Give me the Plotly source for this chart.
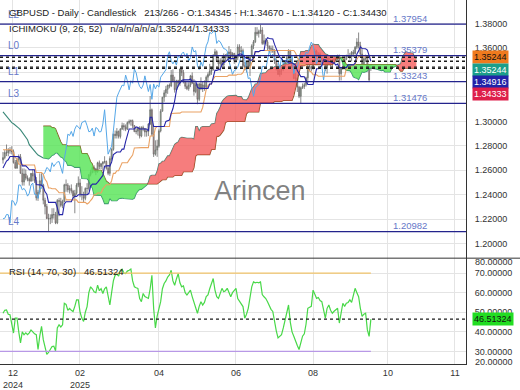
import plotly.graph_objects as go

# ---------------- data ----------------
opens = [1.2685, 1.2704, 1.2745, 1.2742, 1.2767, 1.2760, 1.2753, 1.2663, 1.2618, 1.2684,
         1.2711, 1.2575, 1.2505, 1.2570, 1.2537, 1.2530, 1.2513, 1.2575, 1.2553, 1.2516,
         1.2375, 1.2422, 1.2515, 1.2481, 1.2355, 1.2304, 1.2205, 1.2204, 1.2208, 1.2239,
         1.2237, 1.2170, 1.2353, 1.2347, 1.2313, 1.2343, 1.2481, 1.2479, 1.2440, 1.2452,
         1.2430, 1.2389, 1.2412, 1.2479, 1.2496, 1.2404, 1.2402, 1.2371, 1.2452, 1.2452,
         1.2564, 1.2584, 1.2623, 1.2612, 1.2587, 1.2662, 1.2631, 1.2653, 1.2667, 1.2672,
         1.2617, 1.2575, 1.2696, 1.2771, 1.2895, 1.2885, 1.2918, 1.2877, 1.2937, 1.2966,
         1.2955, 1.2936, 1.2990, 1.3000, 1.3005, 1.2965, 1.2915, 1.2920, 1.2945, 1.2880,
         1.2950, 1.2941, 1.2913, 1.2917, 1.2978, 1.3095, 1.2895, 1.2732, 1.2766, 1.2798,
         1.2922, 1.3083, 1.3197, 1.3233, 1.3262, 1.3296, 1.3290, 1.3378, 1.3331, 1.3258,
         1.3332, 1.3312, 1.3427, 1.3398, 1.3327, 1.3286, 1.3267, 1.3297, 1.3372, 1.3312,
         1.3244, 1.3301, 1.3180, 1.3306, 1.3265, 1.3298, 1.3280, 1.3361, 1.3383, 1.3410,
         1.3422, 1.3537, 1.3569, 1.3497, 1.3470, 1.3497, 1.3460, 1.3535, 1.3522, 1.3552,
         1.3567, 1.3529, 1.3555, 1.3495, 1.3520, 1.3608, 1.3568, 1.3578, 1.3455, 1.3424,
         1.3485, 1.3450, 1.3529, 1.3617, 1.3650, 1.3728, 1.3717, 1.3734, 1.3746, 1.3637,
         1.3660, 1.3650, 1.3615, 1.3594, 1.3591, 1.3574, 1.3494, 1.3427, 1.3383, 1.3415,
         1.3423, 1.3443, 1.3487, 1.3526, 1.3573, 1.3505, 1.3438, 1.3350, 1.3356, 1.3280,
         1.3205, 1.3275, 1.3285, 1.3300, 1.3356, 1.3450, 1.3448, 1.3430, 1.3500, 1.3574,
         1.3531, 1.3550, 1.3520, 1.3497, 1.3493, 1.3434, 1.3520, 1.3470, 1.3495, 1.3504,
         1.3503, 1.3510, 1.3539, 1.3389, 1.3440, 1.3441, 1.3508, 1.3535, 1.3532, 1.3530,
         1.3565, 1.3555, 1.3606, 1.3648, 1.3621, 1.3550, 1.3471, 1.3511, 1.3526, 1.3450,
         1.34345]

highs = [1.2750, 1.2765, 1.2811, 1.2781, 1.2790, 1.2797, 1.2770, 1.2685, 1.2700, 1.2730,
         1.2733, 1.2615, 1.2615, 1.2607, 1.2558, 1.2543, 1.2578, 1.2607, 1.2575, 1.2545,
         1.2440, 1.2575, 1.2576, 1.2490, 1.2376, 1.2325, 1.2245, 1.2240, 1.2290, 1.2290,
         1.2260, 1.2365, 1.2375, 1.2375, 1.2360, 1.2490, 1.2525, 1.2495, 1.2476, 1.2485,
         1.2440, 1.2440, 1.2495, 1.2550, 1.2530, 1.2470, 1.2425, 1.2460, 1.2495, 1.2570,
         1.2605, 1.2640, 1.2640, 1.2620, 1.2670, 1.2680, 1.2660, 1.2675, 1.2715, 1.2680,
         1.2630, 1.2715, 1.2780, 1.2900, 1.2925, 1.2945, 1.2925, 1.2945, 1.2990, 1.2985,
         1.2975, 1.3000, 1.3015, 1.3015, 1.3015, 1.2970, 1.2945, 1.2955, 1.2960, 1.2960,
         1.2965, 1.2945, 1.2935, 1.2985, 1.3207, 1.3105, 1.2965, 1.2845, 1.2850, 1.2935,
         1.3100, 1.3200, 1.3255, 1.3290, 1.3300, 1.3310, 1.3420, 1.3425, 1.3365, 1.3340,
         1.3340, 1.3430, 1.3443, 1.3420, 1.3330, 1.3320, 1.3320, 1.3380, 1.3400, 1.3345,
         1.3315, 1.3310, 1.3315, 1.3360, 1.3325, 1.3335, 1.3375, 1.3400, 1.3470, 1.3445,
         1.3550, 1.3593, 1.3580, 1.3525, 1.3515, 1.3530, 1.3555, 1.3550, 1.3560, 1.3615,
         1.3590, 1.3565, 1.3560, 1.3545, 1.3630, 1.3630, 1.3615, 1.3595, 1.3485, 1.3485,
         1.3515, 1.3530, 1.3630, 1.3665, 1.3770, 1.3770, 1.3750, 1.3788, 1.3770, 1.3710,
         1.3680, 1.3665, 1.3620, 1.3620, 1.3620, 1.3590, 1.3515, 1.3475, 1.3440, 1.3445,
         1.3480, 1.3495, 1.3535, 1.3590, 1.3585, 1.3525, 1.3455, 1.3395, 1.3385, 1.3290,
         1.3285, 1.3310, 1.3315, 1.3365, 1.3460, 1.3460, 1.3455, 1.3510, 1.3595, 1.3585,
         1.3565, 1.3565, 1.3530, 1.3520, 1.3505, 1.3530, 1.3525, 1.3510, 1.3505, 1.3530,
         1.3530, 1.3545, 1.3545, 1.3445, 1.3470, 1.3530, 1.3545, 1.3590, 1.3560, 1.3575,
         1.3585, 1.3615, 1.3680, 1.3726, 1.3650, 1.3590, 1.3525, 1.3545, 1.3530, 1.3460,
         1.3467]

lows = [1.2655, 1.2690, 1.2716, 1.2715, 1.2735, 1.2730, 1.2655, 1.2612, 1.2612, 1.2665,
        1.2574, 1.2475, 1.2475, 1.2518, 1.2510, 1.2475, 1.2505, 1.2510, 1.2497, 1.2353,
        1.2350, 1.2405, 1.2475, 1.2322, 1.2240, 1.2203, 1.2100, 1.2160, 1.2170, 1.2205,
        1.2160, 1.2160, 1.2225, 1.2298, 1.2290, 1.2340, 1.2425, 1.2420, 1.2410, 1.2410,
        1.2368, 1.2249, 1.2400, 1.2462, 1.2380, 1.2355, 1.2333, 1.2355, 1.2400, 1.2435,
        1.2550, 1.2575, 1.2580, 1.2560, 1.2580, 1.2610, 1.2610, 1.2595, 1.2655, 1.2605,
        1.2560, 1.2555, 1.2680, 1.2760, 1.2860, 1.2860, 1.2860, 1.2860, 1.2930, 1.2925,
        1.2920, 1.2930, 1.2975, 1.2965, 1.2945, 1.2915, 1.2895, 1.2885, 1.2860, 1.2870,
        1.2920, 1.2875, 1.2875, 1.2880, 1.2970, 1.2880, 1.2709, 1.2720, 1.2710, 1.2785,
        1.2910, 1.3080, 1.3160, 1.3200, 1.3225, 1.3270, 1.3280, 1.3320, 1.3235, 1.3255,
        1.3280, 1.3290, 1.3370, 1.3310, 1.3265, 1.3255, 1.3250, 1.3280, 1.3305, 1.3210,
        1.3230, 1.3140, 1.3165, 1.3255, 1.3240, 1.3250, 1.3260, 1.3330, 1.3370, 1.3380,
        1.3415, 1.3530, 1.3495, 1.3450, 1.3410, 1.3450, 1.3455, 1.3490, 1.3500, 1.3540,
        1.3500, 1.3515, 1.3470, 1.3480, 1.3500, 1.3530, 1.3540, 1.3445, 1.3415, 1.3400,
        1.3440, 1.3370, 1.3525, 1.3590, 1.3640, 1.3700, 1.3685, 1.3715, 1.3625, 1.3625,
        1.3630, 1.3580, 1.3565, 1.3560, 1.3560, 1.3470, 1.3415, 1.3380, 1.3365, 1.3380,
        1.3410, 1.3440, 1.3465, 1.3510, 1.3495, 1.3425, 1.3345, 1.3330, 1.3240, 1.3190,
        1.3142, 1.3265, 1.3265, 1.3285, 1.3315, 1.3410, 1.3410, 1.3425, 1.3490, 1.3515,
        1.3510, 1.3500, 1.3475, 1.3465, 1.3410, 1.3390, 1.3460, 1.3450, 1.3440, 1.3475,
        1.3480, 1.3500, 1.3333, 1.3335, 1.3420, 1.3425, 1.3500, 1.3520, 1.3505, 1.3490,
        1.3525, 1.3545, 1.3590, 1.3595, 1.3530, 1.3465, 1.3460, 1.3485, 1.3440, 1.3324,
        1.3412]

closes = [1.2704, 1.2745, 1.2742, 1.2767, 1.2760, 1.2753, 1.2663, 1.2618, 1.2684, 1.2711,
          1.2575, 1.2505, 1.2570, 1.2537, 1.2530, 1.2513, 1.2575, 1.2553, 1.2516, 1.2375,
          1.2422, 1.2515, 1.2481, 1.2355, 1.2304, 1.2205, 1.2204, 1.2208, 1.2239, 1.2237,
          1.2170, 1.2353, 1.2347, 1.2313, 1.2343, 1.2481, 1.2479, 1.2440, 1.2452, 1.2430,
          1.2389, 1.2412, 1.2479, 1.2496, 1.2404, 1.2402, 1.2371, 1.2452, 1.2452, 1.2564,
          1.2584, 1.2623, 1.2612, 1.2587, 1.2662, 1.2631, 1.2653, 1.2667, 1.2672, 1.2617,
          1.2575, 1.2696, 1.2771, 1.2895, 1.2885, 1.2918, 1.2877, 1.2937, 1.2966, 1.2955,
          1.2936, 1.2990, 1.3000, 1.3005, 1.2965, 1.2915, 1.2920, 1.2945, 1.2880, 1.2950,
          1.2941, 1.2913, 1.2917, 1.2978, 1.3095, 1.2895, 1.2732, 1.2766, 1.2798, 1.2922,
          1.3083, 1.3197, 1.3233, 1.3262, 1.3296, 1.3290, 1.3378, 1.3331, 1.3258, 1.3332,
          1.3312, 1.3427, 1.3398, 1.3327, 1.3286, 1.3267, 1.3297, 1.3372, 1.3312, 1.3244,
          1.3301, 1.3180, 1.3306, 1.3265, 1.3298, 1.3280, 1.3361, 1.3383, 1.3410, 1.3422,
          1.3537, 1.3569, 1.3497, 1.3470, 1.3497, 1.3460, 1.3535, 1.3522, 1.3552, 1.3567,
          1.3529, 1.3555, 1.3495, 1.3520, 1.3608, 1.3568, 1.3578, 1.3455, 1.3424, 1.3485,
          1.3450, 1.3529, 1.3617, 1.3650, 1.3728, 1.3717, 1.3734, 1.3746, 1.3637, 1.3660,
          1.3650, 1.3615, 1.3594, 1.3591, 1.3574, 1.3494, 1.3427, 1.3383, 1.3415, 1.3423,
          1.3443, 1.3487, 1.3526, 1.3573, 1.3505, 1.3438, 1.3350, 1.3356, 1.3280, 1.3205,
          1.3275, 1.3285, 1.3300, 1.3356, 1.3450, 1.3448, 1.3430, 1.3500, 1.3574, 1.3531,
          1.3550, 1.3520, 1.3497, 1.3493, 1.3434, 1.3520, 1.3470, 1.3495, 1.3504, 1.3503,
          1.3510, 1.3539, 1.3389, 1.3440, 1.3441, 1.3508, 1.3535, 1.3532, 1.3530, 1.3565,
          1.3555, 1.3606, 1.3648, 1.3621, 1.3550, 1.3471, 1.3511, 1.3526, 1.3450, 1.3339,
          1.3443]

tenkan = [1.2619, 1.2643, 1.2676, 1.2686, 1.2713, 1.2713, 1.2713, 1.2712, 1.2712, 1.2712,
          1.2693, 1.2636, 1.2636, 1.2636, 1.2623, 1.2604, 1.2604, 1.2604, 1.2604, 1.2484,
          1.2483, 1.2479, 1.2479, 1.2465, 1.2424, 1.2405, 1.2338, 1.2338, 1.2338, 1.2338,
          1.2338, 1.2295, 1.2238, 1.2238, 1.2238, 1.2325, 1.2343, 1.2343, 1.2343, 1.2343,
          1.2375, 1.2387, 1.2387, 1.2400, 1.2400, 1.2400, 1.2400, 1.2400, 1.2400, 1.2410,
          1.2469, 1.2487, 1.2487, 1.2487, 1.2502, 1.2518, 1.2540, 1.2558, 1.2633, 1.2638,
          1.2638, 1.2635, 1.2668, 1.2728, 1.2740, 1.2750, 1.2750, 1.2750, 1.2773, 1.2773,
          1.2835, 1.2880, 1.2938, 1.2938, 1.2938, 1.2938, 1.2955, 1.2950, 1.2938, 1.2938,
          1.2938, 1.2938, 1.2938, 1.2923, 1.3034, 1.3034, 1.2958, 1.2958, 1.2958, 1.2958,
          1.2958, 1.2958, 1.2958, 1.3000, 1.3005, 1.3010, 1.3065, 1.3105, 1.3168, 1.3253,
          1.3293, 1.3315, 1.3334, 1.3339, 1.3339, 1.3339, 1.3339, 1.3347, 1.3327, 1.3327,
          1.3327, 1.3280, 1.3270, 1.3270, 1.3270, 1.3270, 1.3270, 1.3270, 1.3305, 1.3305,
          1.3358, 1.3417, 1.3417, 1.3422, 1.3427, 1.3462, 1.3482, 1.3487, 1.3502, 1.3513,
          1.3513, 1.3513, 1.3513, 1.3533, 1.3543, 1.3550, 1.3550, 1.3538, 1.3523, 1.3515,
          1.3515, 1.3500, 1.3500, 1.3518, 1.3570, 1.3570, 1.3570, 1.3579, 1.3579, 1.3579,
          1.3657, 1.3684, 1.3677, 1.3674, 1.3674, 1.3629, 1.3593, 1.3545, 1.3523, 1.3515,
          1.3493, 1.3493, 1.3493, 1.3478, 1.3478, 1.3478, 1.3468, 1.3460, 1.3415, 1.3390,
          1.3366, 1.3366, 1.3364, 1.3334, 1.3301, 1.3301, 1.3301, 1.3301, 1.3369, 1.3430,
          1.3430, 1.3440, 1.3455, 1.3503, 1.3503, 1.3493, 1.3493, 1.3488, 1.3478, 1.3478,
          1.3460, 1.3468, 1.3439, 1.3439, 1.3439, 1.3439, 1.3439, 1.3462, 1.3462, 1.3462,
          1.3462, 1.3475, 1.3550, 1.3576, 1.3608, 1.3596, 1.3593, 1.3593, 1.3583, 1.3525,
          1.34916]

kijun = [1.2768, 1.2768, 1.2768, 1.2768, 1.2768, 1.2768, 1.2741, 1.2704, 1.2694, 1.2649,
         1.2649, 1.2643, 1.2643, 1.2643, 1.2643, 1.2643, 1.2643, 1.2643, 1.2643, 1.2582,
         1.2582, 1.2582, 1.2582, 1.2567, 1.2526, 1.2507, 1.2456, 1.2456, 1.2449, 1.2449,
         1.2449, 1.2435, 1.2417, 1.2417, 1.2417, 1.2417, 1.2358, 1.2358, 1.2358, 1.2358,
         1.2358, 1.2358, 1.2358, 1.2338, 1.2338, 1.2338, 1.2338, 1.2338, 1.2325, 1.2335,
         1.2353, 1.2370, 1.2400, 1.2400, 1.2415, 1.2415, 1.2415, 1.2448, 1.2470, 1.2482,
         1.2482, 1.2482, 1.2515, 1.2575, 1.2575, 1.2597, 1.2597, 1.2639, 1.2662, 1.2662,
         1.2662, 1.2662, 1.2685, 1.2708, 1.2725, 1.2783, 1.2785, 1.2785, 1.2785, 1.2785,
         1.2785, 1.2785, 1.2785, 1.2785, 1.2881, 1.2881, 1.2881, 1.2944, 1.2958, 1.2958,
         1.2958, 1.2958, 1.2958, 1.2958, 1.2958, 1.2958, 1.3065, 1.3067, 1.3067, 1.3067,
         1.3067, 1.3067, 1.3076, 1.3076, 1.3076, 1.3076, 1.3076, 1.3076, 1.3076, 1.3076,
         1.3076, 1.3076, 1.3077, 1.3077, 1.3114, 1.3177, 1.3262, 1.3292, 1.3305, 1.3305,
         1.3345, 1.3367, 1.3367, 1.3367, 1.3367, 1.3367, 1.3367, 1.3367, 1.3367, 1.3378,
         1.3378, 1.3378, 1.3378, 1.3378, 1.3385, 1.3385, 1.3385, 1.3398, 1.3435, 1.3435,
         1.3435, 1.3435, 1.3480, 1.3500, 1.3570, 1.3570, 1.3570, 1.3579, 1.3579, 1.3579,
         1.3579, 1.3579, 1.3579, 1.3579, 1.3579, 1.3579, 1.3579, 1.3579, 1.3579, 1.3579,
         1.3579, 1.3579, 1.3579, 1.3579, 1.3579, 1.3579, 1.3579, 1.3559, 1.3514, 1.3489,
         1.3465, 1.3465, 1.3465, 1.3456, 1.3426, 1.3411, 1.3404, 1.3381, 1.3381, 1.3381,
         1.3369, 1.3369, 1.3369, 1.3369, 1.3369, 1.3369, 1.3369, 1.3369, 1.3369, 1.3369,
         1.3369, 1.3369, 1.3369, 1.3369, 1.3369, 1.3369, 1.3430, 1.3430, 1.3440, 1.3455,
         1.3464, 1.3464, 1.3507, 1.3530, 1.3530, 1.3530, 1.3530, 1.3530, 1.3530, 1.35244,
         1.35244]

# Senkou span A / B, plotted 26 bars ahead (bar index 0 .. 236)
senkou_a = [1.3078, 1.3060, 1.3040, 1.3022, 1.3005, 1.2990, 1.2980, 1.2970, 1.2955, 1.2945,
            1.2930, 1.2910, 1.2890, 1.2870, 1.2850, 1.2810, 1.2790, 1.2770, 1.2750, 1.2740,
            1.2725, 1.2715, 1.2708, 1.2700, 1.2698, 1.2696,
            1.2694, 1.2706, 1.2722, 1.2727, 1.2741, 1.2741, 1.2727, 1.2708, 1.2703, 1.2681,
            1.2671, 1.2640, 1.2640, 1.2640, 1.2633, 1.2624, 1.2624, 1.2624, 1.2624, 1.2533,
            1.2533, 1.2531, 1.2531, 1.2516, 1.2475, 1.2456, 1.2397, 1.2397, 1.2394, 1.2394,
            1.2394, 1.2365, 1.2328, 1.2328, 1.2328, 1.2371, 1.2351, 1.2351, 1.2351, 1.2351,
            1.2367, 1.2373, 1.2373, 1.2369, 1.2369, 1.2369, 1.2369, 1.2369, 1.2363, 1.2373,
            1.2411, 1.2429, 1.2444, 1.2444, 1.2459, 1.2467, 1.2478, 1.2503, 1.2552, 1.2560,
            1.2560, 1.2559, 1.2592, 1.2652, 1.2658, 1.2674, 1.2674, 1.2695, 1.2718, 1.2718,
            1.2749, 1.2771, 1.2812, 1.2823, 1.2832, 1.2861, 1.2870, 1.2868, 1.2862, 1.2862,
            1.2862, 1.2862, 1.2862, 1.2854, 1.2958, 1.2958, 1.2920, 1.2951, 1.2958, 1.2958,
            1.2958, 1.2958, 1.2958, 1.2979, 1.2982, 1.2984, 1.3065, 1.3086, 1.3118, 1.3160,
            1.3180, 1.3191, 1.3205, 1.3208, 1.3208, 1.3208, 1.3208, 1.3212, 1.3202, 1.3202,
            1.3202, 1.3178, 1.3174, 1.3174, 1.3192, 1.3224, 1.3266, 1.3281, 1.3305, 1.3305,
            1.3352, 1.3392, 1.3392, 1.3395, 1.3397, 1.3415, 1.3425, 1.3427, 1.3435, 1.3446,
            1.3446, 1.3446, 1.3446, 1.3456, 1.3464, 1.3468, 1.3468, 1.3468, 1.3479, 1.3475,
            1.3475, 1.3468, 1.3490, 1.3509, 1.3570, 1.3570, 1.3570, 1.3579, 1.3579, 1.3579,
            1.3618, 1.3632, 1.3628, 1.3627, 1.3627, 1.3604, 1.3586, 1.3562, 1.3551, 1.3547,
            1.3536, 1.3536, 1.3536, 1.3529, 1.3529, 1.3529, 1.3524, 1.3510, 1.3465, 1.3440,
            1.3416, 1.3416, 1.3415, 1.3395, 1.3364, 1.3356, 1.3353, 1.3341, 1.3375, 1.3406,
            1.3400, 1.3405, 1.3412, 1.3436, 1.3436, 1.3431, 1.3431, 1.3429, 1.3424, 1.3424,
            1.3415, 1.3419, 1.3404, 1.3404, 1.3404, 1.3404, 1.3435, 1.3446, 1.3451, 1.3459,
            1.3463, 1.3470, 1.3529, 1.3553, 1.3569, 1.3563, 1.3562, 1.3562, 1.3557, 1.3525,
            1.3508]

senkou_b = [None, None, None, None, None, None, None, None, None, None,
            None, None, None, None, None, None, None, None, None, None,
            None, None, None, 1.2961, 1.2961, 1.2961, 1.2961, 1.2961, 1.2949, 1.2949,
            1.2939, 1.2899, 1.2874, 1.2831, 1.2809, 1.2809, 1.2809, 1.2798, 1.2798, 1.2798,
            1.2798, 1.2798, 1.2798, 1.2798, 1.2798, 1.2737, 1.2737, 1.2737, 1.2737, 1.2710,
            1.2670, 1.2651, 1.2600, 1.2600, 1.2600, 1.2600, 1.2600, 1.2574, 1.2548, 1.2510,
            1.2500, 1.2488, 1.2488, 1.2488, 1.2488, 1.2488, 1.2488, 1.2488, 1.2488, 1.2488,
            1.2488, 1.2488, 1.2488, 1.2488, 1.2488, 1.2488, 1.2488, 1.2488, 1.2488, 1.2488,
            1.2488, 1.2488, 1.2488, 1.2488, 1.2488, 1.2488, 1.2488, 1.2488, 1.2488, 1.2500,
            1.2513, 1.2523, 1.2523, 1.2523, 1.2545, 1.2545, 1.2545, 1.2545, 1.2558, 1.2558,
            1.2558, 1.2558, 1.2558, 1.2588, 1.2588, 1.2588, 1.2588, 1.2588, 1.2588, 1.2620,
            1.2716, 1.2728, 1.2728, 1.2728, 1.2728, 1.2728, 1.2728, 1.2728, 1.2728, 1.2770,
            1.2770, 1.2770, 1.2877, 1.2877, 1.2888, 1.2910, 1.2928, 1.2990, 1.2999, 1.2999,
            1.2999, 1.2999, 1.2999, 1.2999, 1.2999, 1.2999, 1.2999, 1.2999, 1.2999, 1.3062,
            1.3076, 1.3076, 1.3076, 1.3076, 1.3076, 1.3076, 1.3076, 1.3151, 1.3151, 1.3151,
            1.3151, 1.3151, 1.3151, 1.3151, 1.3151, 1.3162, 1.3162, 1.3162, 1.3162, 1.3162,
            1.3170, 1.3170, 1.3170, 1.3170, 1.3170, 1.3170, 1.3208, 1.3270, 1.3355, 1.3403,
            1.3455, 1.3455, 1.3455, 1.3464, 1.3464, 1.3464, 1.3464, 1.3464, 1.3464, 1.3464,
            1.3464, 1.3464, 1.3464, 1.3464, 1.3464, 1.3464, 1.3464, 1.3464, 1.3464, 1.3477,
            1.3514, 1.3514, 1.3519, 1.3524, 1.3514, 1.3489, 1.3465, 1.3465, 1.3465, 1.3465,
            1.3465, 1.3465, 1.3465, 1.3465, 1.3465, 1.3465, 1.3465, 1.3465, 1.3465, 1.3465,
            1.3465, 1.3465, 1.3465, 1.3465, 1.3465, 1.3465, 1.3465, 1.3465, 1.3465, 1.3465,
            1.3465, 1.3465, 1.3465, 1.3465, 1.3465, 1.3456, 1.3426, 1.3411, 1.3411, 1.3434,
            1.3434, 1.3434, 1.3434, 1.3434, 1.3434, 1.3434, 1.3434]

rsi = [49.5, 51.0, 51.2, 49.0, 48.7, 42.8, 39.4, 47.0, 47.0, 40.0,
       34.4, 40.0, 38.5, 39.5, 38.6, 39.5, 41.0, 40.0, 39.0, 38.6,
       31.0, 38.0, 42.8, 36.0, 32.0, 28.5, 29.5, 31.0, 32.5, 32.7,
       30.2, 42.0, 43.6, 42.5, 43.6, 54.6, 54.0, 51.0, 52.0, 51.0,
       50.4, 53.0, 56.3, 56.3, 50.0, 47.0, 45.3, 50.0, 52.9, 60.0,
       63.0, 62.0, 60.5, 60.0, 63.8, 61.0, 62.0, 59.6, 62.0, 63.0,
       58.0, 53.7, 60.0, 66.0, 68.9, 69.5, 68.5, 71.4, 72.0, 70.0,
       69.7, 71.0, 71.4, 72.0, 66.0, 63.0, 62.5, 62.2, 57.0, 55.4,
       59.6, 58.0, 57.5, 57.1, 62.0, 68.9, 52.0, 42.0, 48.0, 52.0,
       55.4, 62.0, 64.7, 66.0, 68.0, 69.0, 71.4, 66.0, 63.8, 67.0,
       69.7, 65.0, 63.0, 63.5, 60.0, 58.8, 60.0, 61.3, 58.0, 55.4,
       52.0, 49.5, 53.0, 55.4, 53.7, 55.0, 58.0, 58.8, 62.0, 65.0,
       67.2, 61.3, 58.0, 57.1, 60.0, 62.2, 60.5, 61.0, 62.2, 60.0,
       57.9, 60.0, 61.0, 62.2, 57.0, 55.4, 54.0, 52.9, 47.0, 49.0,
       52.0, 58.0, 63.0, 65.5, 65.0, 65.3, 65.0, 65.5, 59.0, 57.9,
       57.0, 55.4, 53.0, 51.5, 50.4, 45.0, 40.5, 36.9, 38.0, 38.6,
       42.0, 46.2, 50.0, 53.7, 45.0, 40.0, 37.8, 35.0, 33.0, 31.0,
       35.0, 37.8, 39.0, 44.0, 52.0, 52.5, 53.0, 61.3, 59.0, 57.1,
       57.5, 56.0, 55.4, 51.0, 47.0, 52.0, 53.7, 51.0, 49.5, 50.5,
       51.5, 52.0, 44.5, 50.0, 54.6, 53.0, 54.6, 55.0, 56.3, 55.0,
       58.0, 62.2, 60.0, 57.9, 52.0, 47.9, 49.0, 49.5, 41.0, 37.7,
       46.51324]

chikou_shift = 26
level_names = ["L2", "L0", "L1", "L3", "L4"]
level_values = [1.37954, 1.35379, 1.33243, 1.31476, 1.20982]
dotted_values = [1.35244, 1.34916, 1.34430, 1.34333]
box_values = [1.35244, 1.35244, 1.34916, 1.34333]
box_colors = ["#f07a1e", "#1b9e8a", "#2222a8", "#de1f4a"]
box_text_colors = ["#111111", "#ffffff", "#ffffff", "#ffffff"]
rsi_last = 46.51324
rsi_upper, rsi_lower = 70, 30

price_ticks = [1.20, 1.22, 1.24, 1.26, 1.28, 1.30, 1.32, 1.34, 1.36, 1.38]
price_tick_text = ["1.20000", "1.22000", "1.24000", "1.26000", "1.28000", "1.30000",
                   "", "", "1.36000", "1.38000"]   # 1.32 / 1.34 sit under the value boxes
rsi_ticks = [30, 40, 50, 60, 70]
x_tick_pos = [5.7, 43.9, 89.0, 133.0, 177.0, 219.7, 258.0]
x_tick_text = ["12<br>2024", "02<br>2025", "04", "06", "08", "10", "11"]

header1 = "GBPUSD - Daily - Candlestick   213/266 - O:1.34345 - H:1.34670 - L:1.34120 - C:1.34430"
header2 = "ICHIMOKU (9, 26, 52)   n/a/n/a/n/a/1.35244/1.34333"
rsi_title = "RSI (14, 70, 30)   46.51324"
watermark = "Arincen"

# ---------------- geometry helpers ----------------
W, H = 520, 390
ML, MR, MT, MB = 0, 54, 0, 22
PW, PH = W - ML - MR, H - MT - MB          # 466 x 368
SPLIT = 261                                 # pixel row where RSI pane starts
main_dom = [(H - MB - SPLIT) / PH, 1.0]
rsi_dom = [0.0, (H - MB - SPLIT) / PH]
X_RANGE = [-1.71, 264.3]
Y_RANGE = [1.1882, 1.39919]
R_RANGE = [23.6, 77.6]

def py(ypix):
    return (H - MB - ypix) / PH

def pxr(xpix):
    return (xpix - ML) / PW

FONT = "Liberation Sans, Arial, sans-serif"
N = len(closes)
bars = list(range(N))
cloud_x = list(range(len(senkou_a)))

fig = go.Figure()

# ---- Ichimoku cloud edge lines (under fills)
fig.add_trace(go.Scatter(x=cloud_x, y=senkou_a, mode="lines", xaxis="x2", yaxis="y2",
                         line=dict(color="#3a8878", width=1.1), hoverinfo="skip"))
fig.add_trace(go.Scatter(x=cloud_x, y=senkou_b, mode="lines", xaxis="x2", yaxis="y2",
                         line=dict(color="#8a5222", width=1.1), hoverinfo="skip"))

# ---- cloud fills
def cloud_polys(sign):
    outx, outy = [], []
    ra, rb = [], []
    idx = [k for k in cloud_x if senkou_a[k] is not None and senkou_b[k] is not None]

    def flush():
        if len(ra) >= 2:
            xs = [p[0] for p in ra] + [p[0] for p in reversed(rb)]
            ys = [p[1] for p in ra] + [p[1] for p in reversed(rb)]
            outx.extend(xs + [xs[0], None])
            outy.extend(ys + [ys[0], None])
        ra.clear()
        rb.clear()

    for n, k in enumerate(idx):
        d = (senkou_b[k] - senkou_a[k]) * sign
        if d >= 0:
            ra.append((k, senkou_a[k]))
            rb.append((k, senkou_b[k]))
        if n + 1 < len(idx):
            k2 = idx[n + 1]
            d2 = (senkou_b[k2] - senkou_a[k2]) * sign
            if (d > 0 > d2) or (d < 0 < d2):
                t = d / (d - d2)
                xc = k + t * (k2 - k)
                yc = senkou_a[k] + t * (senkou_a[k2] - senkou_a[k])
                ra.append((xc, yc))
                rb.append((xc, yc))
                if d > 0:
                    flush()
            elif d >= 0 and d2 < 0:
                flush()
    flush()
    return outx, outy

gx, gy = cloud_polys(+1)   # span B above span A -> green
rx, ry = cloud_polys(-1)   # span A above span B -> red
fig.add_trace(go.Scatter(x=gx, y=gy, mode="lines", fill="toself", xaxis="x2", yaxis="y2",
                         fillcolor="rgba(88,228,88,0.82)", line=dict(width=0),
                         hoverinfo="skip"))
fig.add_trace(go.Scatter(x=rx, y=ry, mode="lines", fill="toself", xaxis="x2", yaxis="y2",
                         fillcolor="rgba(244,96,96,0.82)", line=dict(width=0),
                         hoverinfo="skip"))

# ---- candles
fig.add_trace(go.Candlestick(x=bars, open=opens, high=highs, low=lows, close=closes,
                             xaxis="x2", yaxis="y2", whiskerwidth=0,
                             increasing=dict(line=dict(color="#6a6a6a", width=0.8), fillcolor="#a9d8a9"),
                             decreasing=dict(line=dict(color="#6a6a6a", width=0.8), fillcolor="#eaa0a0"),
                             hoverinfo="skip"))

# ---- chikou, kijun, tenkan
fig.add_trace(go.Scatter(x=[b - chikou_shift for b in bars[chikou_shift:]], y=closes[chikou_shift:],
                         mode="lines", xaxis="x2", yaxis="y2",
                         line=dict(color="#55a7e8", width=1.0), hoverinfo="skip"))
fig.add_trace(go.Scatter(x=bars, y=kijun, mode="lines", xaxis="x2", yaxis="y2",
                         line=dict(color="#eaa264", width=1.1), hoverinfo="skip"))
fig.add_trace(go.Scatter(x=bars, y=tenkan, mode="lines", xaxis="x2", yaxis="y2",
                         line=dict(color="#2525a8", width=1.1), hoverinfo="skip"))

# ---- RSI
fig.add_trace(go.Scatter(x=bars, y=rsi, mode="lines", xaxis="x", yaxis="y",
                         line=dict(color="#48d848", width=1.2), hoverinfo="skip"))

shapes = []
for lv in level_values:
    shapes.append(dict(type="line", xref="paper", x0=0, x1=1, yref="y2", y0=lv, y1=lv,
                       line=dict(color="#23238c", width=1.2), layer="above"))
for lv in dotted_values:
    shapes.append(dict(type="line", xref="paper", x0=0, x1=1, yref="y2", y0=lv, y1=lv,
                       line=dict(color="#1a1a1a", width=1.4, dash="dot"), layer="above"))
shapes.append(dict(type="line", xref="x", x0=X_RANGE[0], x1=bars[-1], yref="y",
                   y0=rsi_upper, y1=rsi_upper, line=dict(color="#f2c46a", width=1.2)))
shapes.append(dict(type="line", xref="x", x0=X_RANGE[0], x1=bars[-1], yref="y",
                   y0=rsi_lower, y1=rsi_lower, line=dict(color="#b898e6", width=1.2)))
shapes.append(dict(type="line", xref="paper", x0=0, x1=1, yref="y",
                   y0=rsi_last, y1=rsi_last, line=dict(color="#1a1a1a", width=1.2, dash="dot"),
                   layer="above"))
shapes.append(dict(type="line", xref="paper", x0=0, x1=W / PW, yref="paper",
                   y0=main_dom[0], y1=main_dom[0], line=dict(color="#333333", width=1)))

ann = []
LBL = "#6678c8"
for name, lv in zip(level_names, level_values):
    ann.append(dict(text=name, xref="paper", x=pxr(6), xanchor="left", yref="y2", y=lv,
                    yanchor="middle", yshift=10, showarrow=False,
                    font=dict(family=FONT, size=10, color=LBL)))
    ann.append(dict(text=f"{lv:.5f}", xref="paper", x=pxr(391), xanchor="left", yref="y2", y=lv,
                    yanchor="middle", yshift=6, showarrow=False,
                    font=dict(family=FONT, size=9.5, color=LBL)))
for k, (bv, bc, tc) in enumerate(zip(box_values, box_colors, box_text_colors)):
    ann.append(dict(text=f"{bv:.5f}", xref="paper", x=1 + 6 / PW, xanchor="left",
                    yref="y2", y=box_values[0], yanchor="middle", yshift=-12.4 * k,
                    showarrow=False, bgcolor=bc, borderpad=1,
                    font=dict(family=FONT, size=9, color=tc)))
ann.append(dict(text=f"{rsi_last:.5f}", xref="paper", x=1 + 6 / PW, xanchor="left",
                yref="y", y=rsi_last, yanchor="middle", showarrow=False,
                bgcolor="#22dd22", borderpad=1, font=dict(family=FONT, size=9, color="#111111")))
ann.append(dict(text="80.00000", xref="paper", x=1 + 7 / PW, xanchor="left", yref="paper",
                y=py(265), yanchor="middle", showarrow=False,
                font=dict(family=FONT, size=9, color="#333333")))
ann.append(dict(text="20.00000", xref="paper", x=1 + 7 / PW, xanchor="left", yref="paper",
                y=py(366), yanchor="middle", showarrow=False,
                font=dict(family=FONT, size=9, color="#333333")))
ann.append(dict(text=header1, xref="paper", x=pxr(7), xanchor="left", yref="paper", y=py(13),
                yanchor="middle", showarrow=False, font=dict(family=FONT, size=9.5, color="#222222")))
ann.append(dict(text=header2, xref="paper", x=pxr(7), xanchor="left", yref="paper", y=py(29),
                yanchor="middle", showarrow=False, font=dict(family=FONT, size=9.5, color="#222222")))
ann.append(dict(text=rsi_title, xref="paper", x=pxr(7), xanchor="left", yref="paper", y=py(274),
                yanchor="middle", showarrow=False, font=dict(family=FONT, size=9.5, color="#222222")))
ann.append(dict(text=watermark, xref="paper", x=pxr(260), xanchor="center", yref="paper", y=py(193),
                yanchor="middle", showarrow=False,
                font=dict(family=FONT, size=27, color="rgba(95,95,95,0.8)")))

GRID = "#e4e4e4"
fig.update_layout(
    width=W, height=H, margin=dict(l=ML, r=MR, t=MT, b=MB),
    paper_bgcolor="white", plot_bgcolor="white", showlegend=False,
    font=dict(family=FONT, size=9, color="#333333"),
    xaxis=dict(domain=[0, 1], anchor="y", range=X_RANGE, tickvals=x_tick_pos, ticktext=x_tick_text,
               showgrid=True, gridcolor=GRID, zeroline=False, showline=True, linecolor="#333333",
               ticks="", rangeslider=dict(visible=False), tickfont=dict(size=9, color="#333333")),
    xaxis2=dict(domain=[0, 1], anchor="y2", range=X_RANGE, matches="x", tickvals=x_tick_pos,
                showticklabels=False, showgrid=True, gridcolor=GRID, zeroline=False,
                showline=False, ticks="", rangeslider=dict(visible=False)),
    yaxis=dict(domain=rsi_dom, anchor="x", side="right", range=R_RANGE, tickvals=rsi_ticks,
               ticktext=[f"{v:.5f}" for v in rsi_ticks], showgrid=True, gridcolor=GRID,
               zeroline=False, showline=True, linecolor="#333333", ticks="",
               ticklabelstandoff=6, tickfont=dict(size=9, color="#333333")),
    yaxis2=dict(domain=main_dom, anchor="x2", side="right", range=Y_RANGE, tickvals=price_ticks,
                ticktext=price_tick_text, showgrid=True, gridcolor=GRID,
                zeroline=False, showline=True, linecolor="#333333", ticks="",
                ticklabelstandoff=6, tickfont=dict(size=9, color="#333333")),
    shapes=shapes, annotations=ann,
)

fig.write_html("out.html", config={"displayModeBar": False, "staticPlot": True},
               post_script="document.body.style.margin='0px';document.body.style.padding='0px';")
